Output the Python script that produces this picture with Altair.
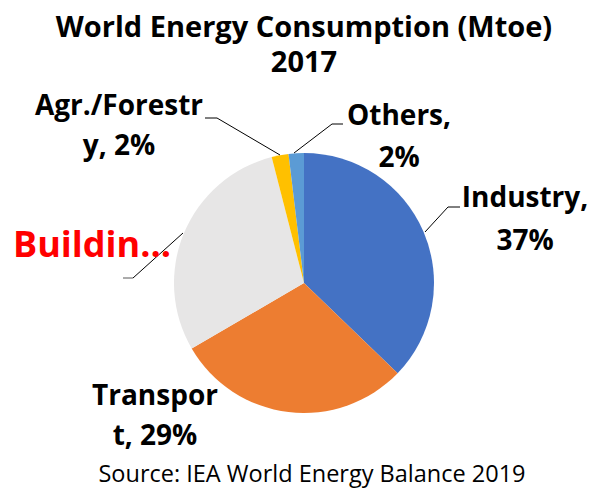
import altair as alt
import pandas as pd

# ---- data ----
categories = ["Industry", "Transport", "Buildings", "Agr./Forestry", "Others"]
shares = [37.2, 29.4, 29.4, 2.1, 1.9]
colors = ["#4472C4", "#ED7D31", "#E7E6E6", "#FFC000", "#5B9BD5"]
title_lines = ["World Energy Consumption (Mtoe)", "2017"]
source_text = "Source: IEA World Energy Balance 2019"
label_industry = ["Industry,", "37%"]
label_transport = ["Transpor", "t, 29%"]
label_buildings = "Buildin\u2026"
label_agr = ["Agr./Forestr", "y, 2%"]
label_others = ["Others,", "2%"]

FONT = "Open Sans"
W, H = 580, 481
OFF = 8


def px(v):
    return v - OFF


df = pd.DataFrame({"category": categories, "share": shares,
                   "order": list(range(len(categories)))})

pie = alt.Chart(df).mark_arc(outerRadius=130).encode(
    theta=alt.Theta("share:Q", stack=True),
    order=alt.Order("order:Q"),
    color=alt.Color("category:N", scale=alt.Scale(domain=categories, range=colors), legend=None),
    x=alt.value(px(304)),
    y=alt.value(px(283)),
)


def txt(s, x, y, size, color="black", bold=True, line_height=None):
    kw = {}
    if line_height is not None:
        kw["lineHeight"] = line_height
    return alt.Chart(pd.DataFrame({"a": [0]})).mark_text(
        font=FONT, fontSize=size, fontWeight="bold" if bold else "normal",
        color=color, align="center", baseline="alphabetic", **kw
    ).encode(x=alt.value(px(x)), y=alt.value(px(y)), text=alt.value(s))


def seg(x1, y1, x2, y2, color="black"):
    return alt.Chart(pd.DataFrame({"a": [0]})).mark_rule(color=color, strokeWidth=1).encode(
        x=alt.value(px(x1)), y=alt.value(px(y1)), x2=alt.value(px(x2)), y2=alt.value(px(y2)))


layers = [pie,
          # leader lines
          seg(205, 118, 217, 118), seg(217, 118, 280, 155),
          seg(343, 124, 332, 124), seg(332, 124, 294, 153),
          seg(460, 207, 448, 207), seg(448, 207, 425, 232),
          seg(183, 233, 133, 278), seg(133, 278, 123, 278, "#595959"),
          # title (two lines)
          txt(title_lines, 304, 37, 29, line_height=35),
          # labels
          txt(label_agr, 119, 115, 28, line_height=40),
          txt(label_others, 399, 125, 28, line_height=42),
          txt(label_industry, 525, 207, 28, line_height=43),
          txt(label_buildings, 92, 257, 36, color="#FF0000"),
          txt(label_transport, 155, 405, 28, line_height=40),
          txt(source_text, 312, 482, 23.5, bold=False),
          ]

chart = alt.layer(*layers).properties(
    width=W, height=H, padding=0, autosize="none"
).configure_view(stroke=None)

chart.save("out.html", embed_options={"renderer": "svg", "actions": False})
